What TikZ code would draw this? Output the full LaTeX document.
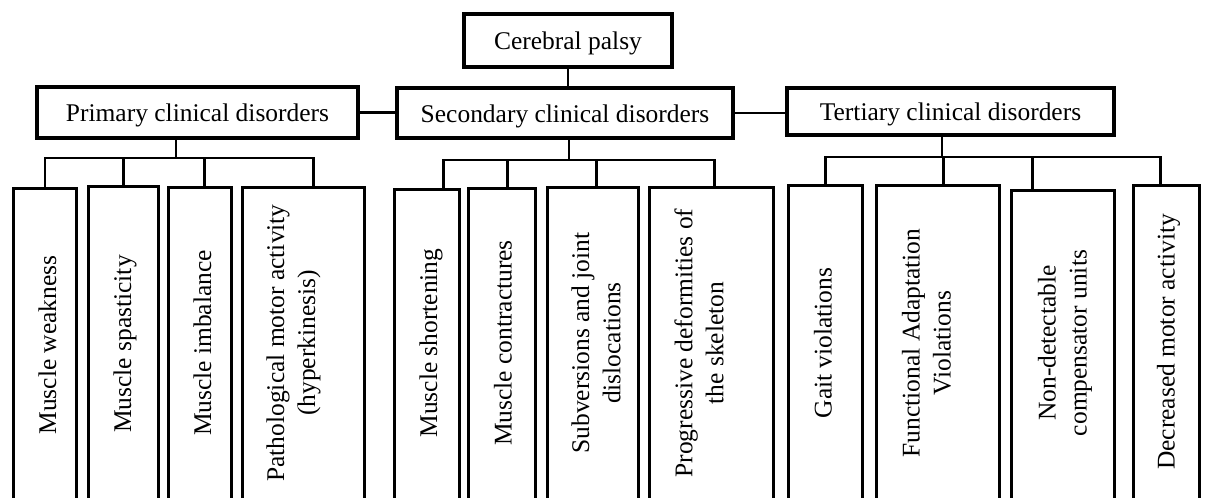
\documentclass[tikz,border=0pt]{standalone}
\usepackage{fontspec}
\setmainfont{Liberation Serif}
\usetikzlibrary{calc}
\def\u{0.75pt}
\begin{document}
\begin{tikzpicture}[x=0.75pt,y=-0.75pt,
  every node/.style={font=\fontsize{19.1}{23.3}\selectfont},
  head/.style={draw,line width=2.6pt,inner sep=0pt,text height=16.5pt,text depth=3pt},
  leaf/.style={draw,line width=2.4pt,anchor=north west,inner sep=0pt,minimum height=340*\u},
  lbl/.style={rotate=90,align=center,inner sep=0pt},
  link/.style={line width=2pt}]

\useasboundingbox (0,0) rectangle (1209,497);
\clip (0,0) rectangle (1209,497);

% top levels
\node[head,minimum width=208*\u,minimum height=53*\u] (cp)  at (568,40.5)   {Cerebral palsy};
\node[head,minimum width=321*\u,minimum height=51*\u] (pri) at (197.5,112.5) {Primary clinical disorders};
\node[head,minimum width=336*\u,minimum height=50*\u] (sec) at (565,113)    {Secondary clinical disorders};
\node[head,minimum width=327*\u,minimum height=47*\u] (ter) at (950.5,111.5) {Tertiary clinical disorders};

% primary disorders
\node[leaf,minimum width=63*\u]  (p1) at (12,187)  {};
\node[leaf,minimum width=70*\u]  (p2) at (87,185)  {};
\node[leaf,minimum width=63*\u]  (p3) at (167,186) {};
\node[leaf,minimum width=122*\u] (p4) at (241,186) {};
\node[lbl] (p1t) at (47.5,345)  {Muscle weakness};
\node[lbl] (p2t) at (125,344)   {Muscle spasticity};
\node[lbl] (p3t) at (202.5,343) {Muscle imbalance};
\node[lbl] (p4t) at (293.5,343) {Pathological motor activity\\(hyperkinesis)};

% secondary disorders
\node[leaf,minimum width=65*\u]  (s1) at (393,188) {};
\node[leaf,minimum width=67*\u]  (s2) at (467,187) {};
\node[leaf,minimum width=91*\u]  (s3) at (546,186) {};
\node[leaf,minimum width=124*\u] (s4) at (648,186) {};
\node[lbl] (s1t) at (431,343) {Muscle shortening};
\node[lbl] (s2t) at (503,343) {Muscle contractures};
\node[lbl] (s3t) at (596,343) {Subversions and joint\\dislocations};
\node[lbl] (s4t) at (699,343) {Progressive deformities of\\the skeleton};

% tertiary disorders
\node[leaf,minimum width=74*\u]  (t1) at (787,184)  {};
\node[leaf,minimum width=123*\u] (t2) at (875,184)  {};
\node[leaf,minimum width=103*\u] (t3) at (1010,189) {};
\node[leaf,minimum width=66*\u]  (t4) at (1132,184) {};
\node[lbl] (t1t) at (823,343)    {Gait violations};
\node[lbl] (t2t) at (926.5,343)  {Functional Adaptation\\Violations};
\node[lbl] (t3t) at (1065,343)   {Non-detectable\\compensator units};
\node[lbl] (t4t) at (1168.5,342) {Decreased motor activity};

% links between the top levels
\draw[link] (cp.south) -- (cp.south |- sec.north);
\draw[link] (pri.east) -- (pri.east -| sec.west);
\draw[link] (sec.east) -- (sec.east -| ter.west);

% primary bus
\coordinate (pj) at (176,158);
\coordinate (p3d) at ($(p3.north)+(4.5,0)$);
\coordinate (p4d) at ($(p4.north)+(10,0)$);
\draw[link] (pj |- pri.south) -- (pj);
\draw[link] (p1.north) -- (p1.north |- pj) -- (p4d |- pj) -- (p4d);
\draw[link] (p2.north) -- (p2.north |- pj);
\draw[link] (p3d) -- (p3d |- pj);

% secondary bus
\coordinate (sj) at (569,160);
\coordinate (s1d) at ($(s1.north)+(16.5,0)$);
\coordinate (s2d) at ($(s2.north)+(5.5,0)$);
\coordinate (s3d) at ($(s3.north)+(3.5,0)$);
\coordinate (s4d) at ($(s4.north)+(3,0)$);
\draw[link] (sj |- sec.south) -- (sj);
\draw[link] (s1d) -- (s1d |- sj) -- (s4d |- sj) -- (s4d);
\draw[link] (s2d) -- (s2d |- sj);
\draw[link] (s3d) -- (s3d |- sj);

% tertiary bus
\coordinate (tj) at (942,157);
\coordinate (t2d) at ($(t2.north)+(5.5,0)$);
\coordinate (t3d) at ($(t3.north)+(-30.5,0)$);
\coordinate (t4d) at ($(t4.north)+(-6,0)$);
\draw[link] (tj |- ter.south) -- (tj);
\draw[link] (t1.north) -- (t1.north |- tj) -- (t4d |- tj) -- (t4d);
\draw[link] (t2d) -- (t2d |- tj);
\draw[link] (t3d) -- (t3d |- tj);
\end{tikzpicture}
\end{document}
